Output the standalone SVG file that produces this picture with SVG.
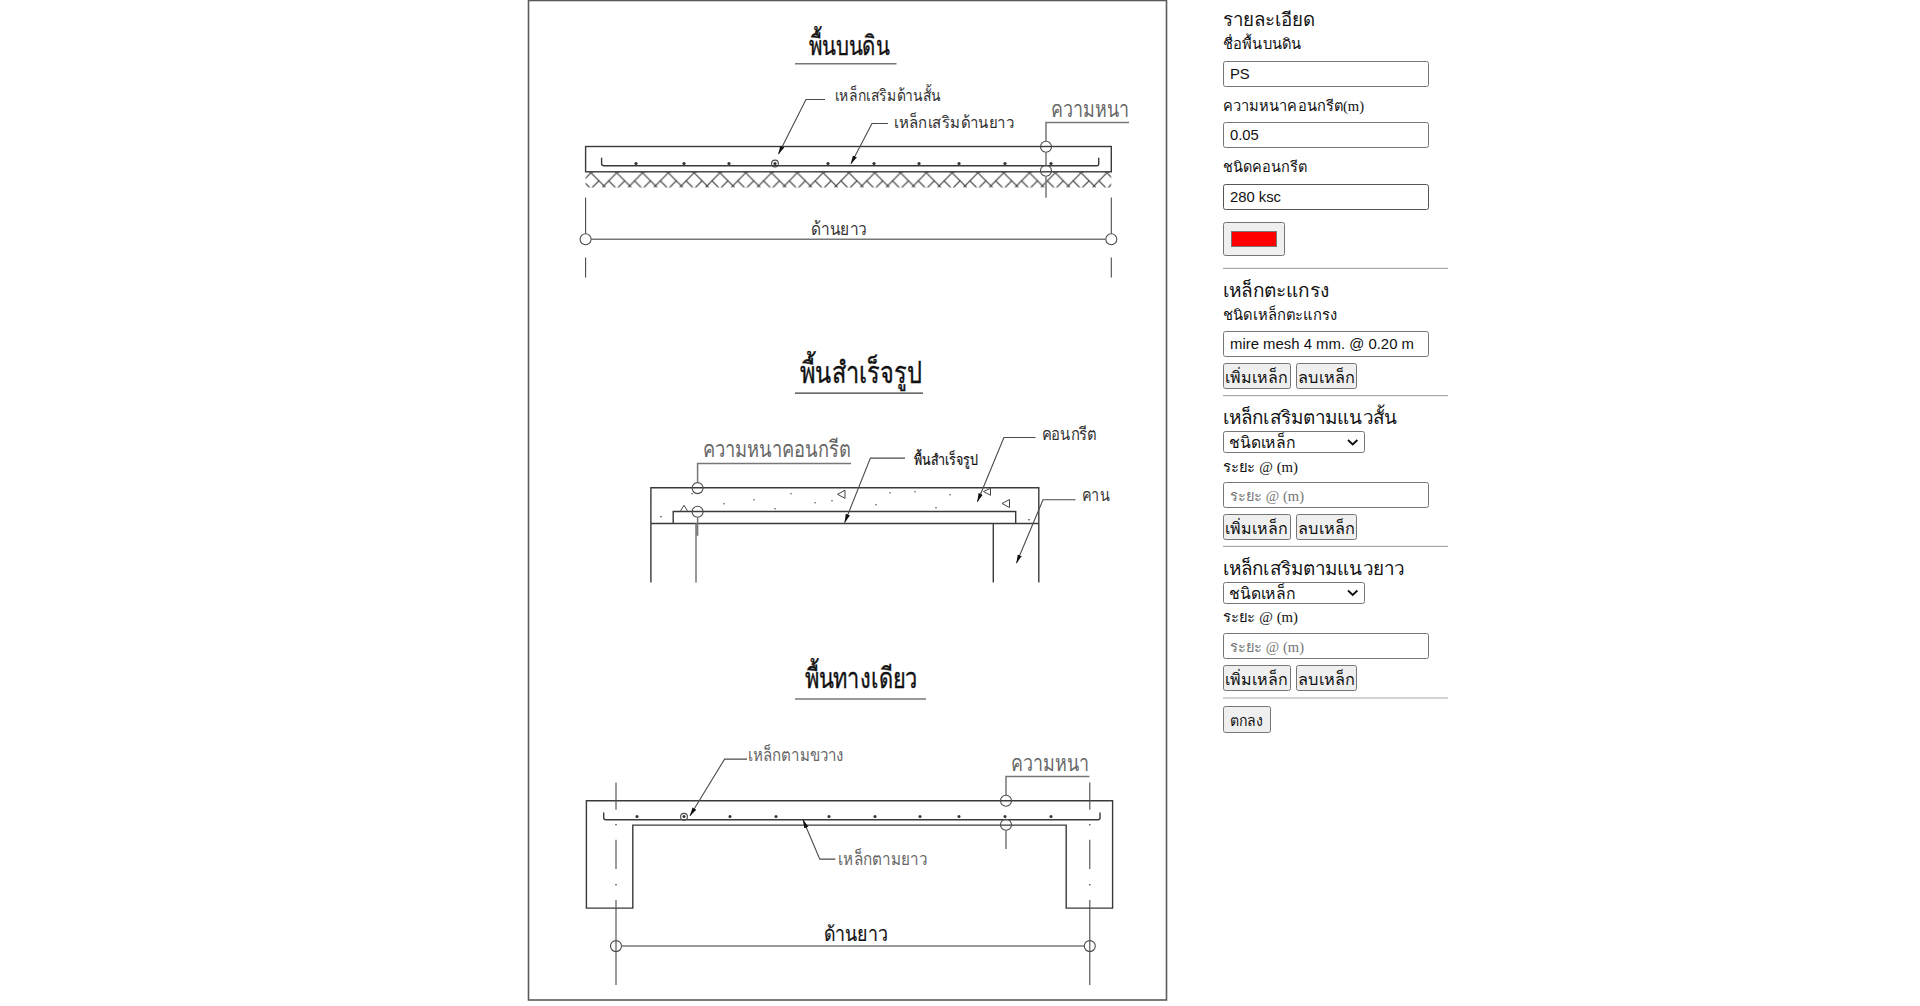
<svg xmlns="http://www.w3.org/2000/svg" width="1920" height="1006" viewBox="0 0 1920 1006">
<style>
.d{fill:none;stroke:#3a3a3a;stroke-width:1.4}
.g{fill:none;stroke:#777;stroke-width:1.5}
.l{fill:none;stroke:#4a4a4a;stroke-width:1.1}
.h{font-family:"Liberation Sans","Noto Sans",sans-serif;fill:#111;stroke:#111;stroke-width:.35}
.t{font-family:"Liberation Sans","Noto Sans",sans-serif;fill:#333}
.tg{font-family:"Liberation Sans","Noto Sans",sans-serif;fill:#666}
.u{font-family:"Liberation Serif","Noto Sans",serif;fill:#111}
.i{font-family:"Liberation Sans",sans-serif;font-size:14.8px;fill:#111}
.box{fill:#fff;stroke:#767676;stroke-width:1}
.btn{fill:#efefef;stroke:#767676;stroke-width:1}
.hr{stroke:#aaa;stroke-width:1.2}
.dot{fill:#333}
.tri{fill:none;stroke:#444;stroke-width:1}
</style>
<defs>
<pattern id="earth" patternUnits="userSpaceOnUse" x="590.9" y="171" width="25.8" height="16">
<path d="M0 1L14.5 15.5M25.8 1L11.5 15.5M1.5 15.5L8.5 8.5M24.3 15.5L17.3 8.5M23.8 0L25.8 1M0 1L2.5 0" fill="none" stroke="#4a4a4a" stroke-width="1.1"/>
</pattern>
<marker id="ah" markerWidth="9" markerHeight="6" refX="8.5" refY="3" orient="auto" markerUnits="userSpaceOnUse">
<path d="M0 .8L9 3L0 5.2Z" fill="#111"/>
</marker>
</defs>
<rect width="1920" height="1006" fill="#fff"/>
<rect id="frame" x="528.5" y="0.5" width="638" height="999.5" fill="#fff" stroke="#5a5a5a" stroke-width="1.6"/>

<g id="section-slab-on-ground" transform="translate(0,.8)">
<text class="h" x="808.5" y="54" font-size="27" textLength="81" lengthAdjust="spacingAndGlyphs">พื้นบนดิน</text>
<line class="g" x1="795" y1="63" x2="896.5" y2="63"/>
<rect class="d" x="585.6" y="145.7" width="525.7" height="25.3"/>
<rect x="585.6" y="170.5" width="525.7" height="16.5" fill="url(#earth)"/>
<path class="d" d="M601.6 157V163Q601.6 165 604 165H1097Q1098.7 165 1098.7 163V157"/>
<g class="dot"><circle cx="636" cy="162.7" r="1.6"/><circle cx="684" cy="162.7" r="1.6"/><circle cx="729" cy="162.7" r="1.6"/><circle cx="775" cy="162.7" r="1.6"/><circle cx="828" cy="162.7" r="1.6"/><circle cx="874" cy="162.7" r="1.6"/><circle cx="919" cy="162.7" r="1.6"/><circle cx="959" cy="162.7" r="1.6"/><circle cx="1005" cy="162.7" r="1.6"/><circle cx="1051" cy="162.7" r="1.6"/></g>
<circle class="l" cx="775" cy="162.7" r="3.4"/>
<circle class="l" cx="1046" cy="146" r="5.5"/><circle class="l" cx="1046" cy="170" r="5.5"/>
<circle class="l" cx="585.6" cy="238.4" r="5.5"/><circle class="l" cx="1111.3" cy="238.4" r="5.5"/>
<text class="t" x="835" y="100" font-size="16" textLength="106" lengthAdjust="spacingAndGlyphs">เหล็กเสริมด้านสั้น</text>
<text class="t" x="894" y="127" font-size="16" textLength="120" lengthAdjust="spacingAndGlyphs">เหล็กเสริมด้านยาว</text>
<text class="tg" x="1051" y="116.7" font-size="22" textLength="78" lengthAdjust="spacingAndGlyphs">ความหนา</text>
<text class="t" x="811" y="234" font-size="18" textLength="56" lengthAdjust="spacingAndGlyphs">ด้านยาว</text>
</g>

<g id="section-precast" transform="translate(0,.8)">
<text class="h" x="799.6" y="382.5" font-size="30" textLength="122" lengthAdjust="spacingAndGlyphs">พื้นสำเร็จรูป</text>
<line class="d" x1="795" y1="392.3" x2="923" y2="392.3"/>
<path class="d" d="M650.9 581.7V487H1038.8V581.7M650.9 522.7H1038.8M993.3 522.7V581.7M673.2 522.7V510.7H1015.7V522.7"/>
<circle class="l" cx="697.6" cy="487.3" r="5.5"/><circle class="l" cx="697.6" cy="511" r="5.5"/>
<path class="tri" d="M837.5 493.5L845 489.5V497.5ZM1002 502.7L1009.5 498.7V506.7ZM983.5 490.7L990.5 487.5V494.5ZM680 511L684 504.5L687.5 510"/>
<g class="dot"><circle cx="692" cy="493" r=".7"/><circle cx="661" cy="516" r=".8"/><circle cx="724" cy="503" r=".7"/><circle cx="754" cy="499" r=".7"/><circle cx="775" cy="508" r=".7"/><circle cx="791" cy="493" r=".7"/><circle cx="815" cy="502" r=".7"/><circle cx="832" cy="500" r=".7"/><circle cx="876" cy="504" r=".7"/><circle cx="890" cy="492" r=".7"/><circle cx="915" cy="491" r=".7"/><circle cx="936" cy="507" r=".7"/><circle cx="950" cy="494" r=".7"/><circle cx="1029" cy="519" r=".8"/></g>
<text class="tg" x="702.7" y="456.7" font-size="23" textLength="148" lengthAdjust="spacingAndGlyphs">ความหนาคอนกรีต</text>
<text class="h" x="914" y="464" font-size="15" textLength="64" lengthAdjust="spacingAndGlyphs" style="stroke-width:.2">พื้นสำเร็จรูป</text>
<text class="t" x="1041.8" y="439" font-size="17" textLength="55" lengthAdjust="spacingAndGlyphs">คอนกรีต</text>
<text class="t" x="1081.8" y="500" font-size="17" textLength="28" lengthAdjust="spacingAndGlyphs">คาน</text>
</g>

<g id="section-one-way" transform="translate(0,.8)">
<text class="h" x="804.6" y="687.5" font-size="28" textLength="113" lengthAdjust="spacingAndGlyphs">พื้นทางเดียว</text>
<line class="g" x1="795" y1="698.3" x2="926" y2="698.3"/>
<path class="d" d="M586.4 800H1112.6V907.3H1066.2V824.3H632.8V907.3H586.4Z"/>
<path class="d" d="M603.7 811.7V817Q603.7 819 606 819H1098Q1100 819 1100 817V811.7"/>
<g class="dot"><circle cx="637" cy="815.7" r="1.5"/><circle cx="684" cy="815.7" r="1.5"/><circle cx="730" cy="815.7" r="1.5"/><circle cx="776" cy="815.7" r="1.5"/><circle cx="829" cy="815.7" r="1.5"/><circle cx="875" cy="815.7" r="1.5"/><circle cx="920" cy="815.7" r="1.5"/><circle cx="959" cy="815.7" r="1.5"/><circle cx="1005" cy="815.7" r="1.5"/><circle cx="1051" cy="815.7" r="1.5"/><circle cx="616" cy="824" r=".8"/><circle cx="616" cy="884" r=".8"/><circle cx="1089.8" cy="824" r=".8"/><circle cx="1089.8" cy="884" r=".8"/></g>
<circle class="l" cx="684" cy="816" r="3.4"/>
<circle class="l" cx="1006" cy="800" r="5.5"/><circle class="l" cx="1006" cy="824" r="5.5"/>
<circle class="l" cx="616" cy="945.3" r="5.5"/><circle class="l" cx="1089.8" cy="945.3" r="5.5"/>
<text class="tg" x="747.8" y="760" font-size="18" textLength="96" lengthAdjust="spacingAndGlyphs">เหล็กตามขวาง</text>
<text class="tg" x="838.3" y="864" font-size="18" textLength="89" lengthAdjust="spacingAndGlyphs">เหล็กตามยาว</text>
<text class="tg" x="1011" y="770" font-size="22" textLength="78" lengthAdjust="spacingAndGlyphs">ความหนา</text>
<text class="h" x="823.6" y="940" font-size="20" textLength="64" lengthAdjust="spacingAndGlyphs" style="stroke-width:.15">ด้านยาว</text>
</g>

<g id="connectors" transform="translate(0,.8)">
<path class="l" marker-end="url(#ah)" d="M825 98.7H806L778.5 153.3"/>
<path class="l" marker-end="url(#ah)" d="M888 122.7H872L851 163"/>
<path class="g" d="M1129 121.7H1046V140.5M1046 151.5V164.5M1046 175.5V197"/>
<path class="l" d="M585.6 196.7V233M585.6 256.7V276.7M1111.3 196.7V233M1111.3 256.7V276.7"/>
<line class="g" x1="591" y1="238.4" x2="1105.8" y2="238.4"/>
<path class="g" d="M851 462.7H697.6V481.8M697.6 516.5V535M696 522.7V581.7"/>
<path class="l" marker-end="url(#ah)" d="M905 457.3H870.4L844.7 521.7"/>
<path class="l" marker-end="url(#ah)" d="M1035.5 436.7H1003.9L977.4 501"/>
<path class="l" marker-end="url(#ah)" d="M1075.5 499H1043L1016.5 562.3"/>
<path class="l" marker-end="url(#ah)" d="M747 758.3H724.6L690 815"/>
<path class="l" marker-end="url(#ah)" d="M835.4 858.3H819.8L803 819"/>
<path class="g" d="M1089.4 775.7H1006V794.5M1006 829.5V848.3"/>
<path class="l" d="M616 781.7V809M616 839V868.3M616 899.3V984.3M1089.8 781.7V809M1089.8 839V868.3M1089.8 899.3V984.3"/>
<line class="g" x1="621.5" y1="945.3" x2="1084.3" y2="945.3"/>
</g>

<g id="details-form">
<text class="u" x="1223" y="26" font-size="18.7" textLength="92" lengthAdjust="spacingAndGlyphs">รายละเอียด</text>
<text class="u" x="1223" y="49" font-size="14.5" textLength="78" lengthAdjust="spacingAndGlyphs">ชื่อพื้นบนดิน</text>
<rect class="box" x="1223.5" y="61.5" width="205" height="25" rx="2"/>
<text class="i" x="1230" y="78.7">PS</text>
<text class="u" x="1223" y="111" font-size="14.5" textLength="141" lengthAdjust="spacingAndGlyphs">ความหนาคอนกรีต(m)</text>
<rect class="box" x="1223.5" y="122.5" width="205" height="25" rx="2"/>
<text class="i" x="1230" y="140.3">0.05</text>
<text class="u" x="1223" y="172" font-size="14.5" textLength="84" lengthAdjust="spacingAndGlyphs">ชนิดคอนกรีต</text>
<rect class="box" x="1223.5" y="184.5" width="205" height="25" rx="2" style="stroke:#555"/>
<text class="i" x="1230" y="201.7">280 ksc</text>
<rect class="btn" x="1223.5" y="222.5" width="61" height="33" rx="2"/>
<rect x="1231.5" y="231.5" width="45" height="15" fill="#f00" stroke="#777"/>
<line class="hr" x1="1223" y1="268.3" x2="1448" y2="268.3"/>
<text class="u" x="1223" y="296.7" font-size="18.7" textLength="106" lengthAdjust="spacingAndGlyphs">เหล็กตะแกรง</text>
<text class="u" x="1223" y="320" font-size="14.5" textLength="114" lengthAdjust="spacingAndGlyphs">ชนิดเหล็กตะแกรง</text>
<rect class="box" x="1223.5" y="331.5" width="205" height="25" rx="2"/>
<text class="i" x="1230" y="349" textLength="184" lengthAdjust="spacingAndGlyphs">mire mesh 4 mm. @ 0.20 m</text>
<rect class="btn" x="1223.5" y="363.5" width="67" height="25" rx="2"/>
<text class="u" x="1225" y="382.7" font-size="16" textLength="63" lengthAdjust="spacingAndGlyphs">เพิ่มเหล็ก</text>
<rect class="btn" x="1296.5" y="363.5" width="60" height="25" rx="2"/>
<text class="u" x="1298.3" y="382.7" font-size="16" textLength="57" lengthAdjust="spacingAndGlyphs">ลบเหล็ก</text>
<line class="hr" x1="1223" y1="395.7" x2="1448" y2="395.7"/>

<text class="u" x="1223" y="424" font-size="18.7" textLength="174" lengthAdjust="spacingAndGlyphs">เหล็กเสริมตามแนวสั้น</text>
<rect class="box" x="1223.5" y="431.5" width="141" height="21" rx="2"/>
<text class="u" x="1229" y="447.8" font-size="16" textLength="67" lengthAdjust="spacingAndGlyphs">ชนิดเหล็ก</text>
<path d="M1348 440L1352.7 444.5L1357.4 440" fill="none" stroke="#111" stroke-width="1.9"/>
<text class="u" x="1223" y="471.7" font-size="14.5" textLength="75" lengthAdjust="spacingAndGlyphs">ระยะ @ (m)</text>
<rect class="box" x="1223.5" y="482.5" width="205" height="25" rx="2"/>
<text class="u" x="1230" y="500.7" font-size="14.5" textLength="74" lengthAdjust="spacingAndGlyphs" style="fill:#757575">ระยะ @ (m)</text>
<rect class="btn" x="1223.5" y="514.5" width="67" height="25" rx="2"/>
<text class="u" x="1225" y="533.5" font-size="16" textLength="63" lengthAdjust="spacingAndGlyphs">เพิ่มเหล็ก</text>
<rect class="btn" x="1296.5" y="514.5" width="60" height="25" rx="2"/>
<text class="u" x="1298.3" y="533.5" font-size="16" textLength="57" lengthAdjust="spacingAndGlyphs">ลบเหล็ก</text>
<line class="hr" x1="1223" y1="546.3" x2="1448" y2="546.3"/>

<text class="u" x="1223" y="575" font-size="18.7" textLength="181" lengthAdjust="spacingAndGlyphs">เหล็กเสริมตามแนวยาว</text>
<rect class="box" x="1223.5" y="582.5" width="141" height="21" rx="2"/>
<text class="u" x="1229" y="598.8" font-size="16" textLength="67" lengthAdjust="spacingAndGlyphs">ชนิดเหล็ก</text>
<path d="M1348 590.5L1352.7 595L1357.4 590.5" fill="none" stroke="#111" stroke-width="1.9"/>
<text class="u" x="1223" y="622.3" font-size="14.5" textLength="75" lengthAdjust="spacingAndGlyphs">ระยะ @ (m)</text>
<rect class="box" x="1223.5" y="633.5" width="205" height="25" rx="2"/>
<text class="u" x="1230" y="651.7" font-size="14.5" textLength="74" lengthAdjust="spacingAndGlyphs" style="fill:#757575">ระยะ @ (m)</text>
<rect class="btn" x="1223.5" y="665.5" width="67" height="25" rx="2"/>
<text class="u" x="1225" y="684.5" font-size="16" textLength="63" lengthAdjust="spacingAndGlyphs">เพิ่มเหล็ก</text>
<rect class="btn" x="1296.5" y="665.5" width="60" height="25" rx="2"/>
<text class="u" x="1298.3" y="684.5" font-size="16" textLength="57" lengthAdjust="spacingAndGlyphs">ลบเหล็ก</text>
<line class="hr" x1="1223" y1="698" x2="1448" y2="698"/>
<rect class="btn" x="1223.5" y="706.5" width="47" height="26" rx="2"/>
<text class="u" x="1230" y="725.7" font-size="14.5" textLength="33" lengthAdjust="spacingAndGlyphs">ตกลง</text>
</g>
</svg>
